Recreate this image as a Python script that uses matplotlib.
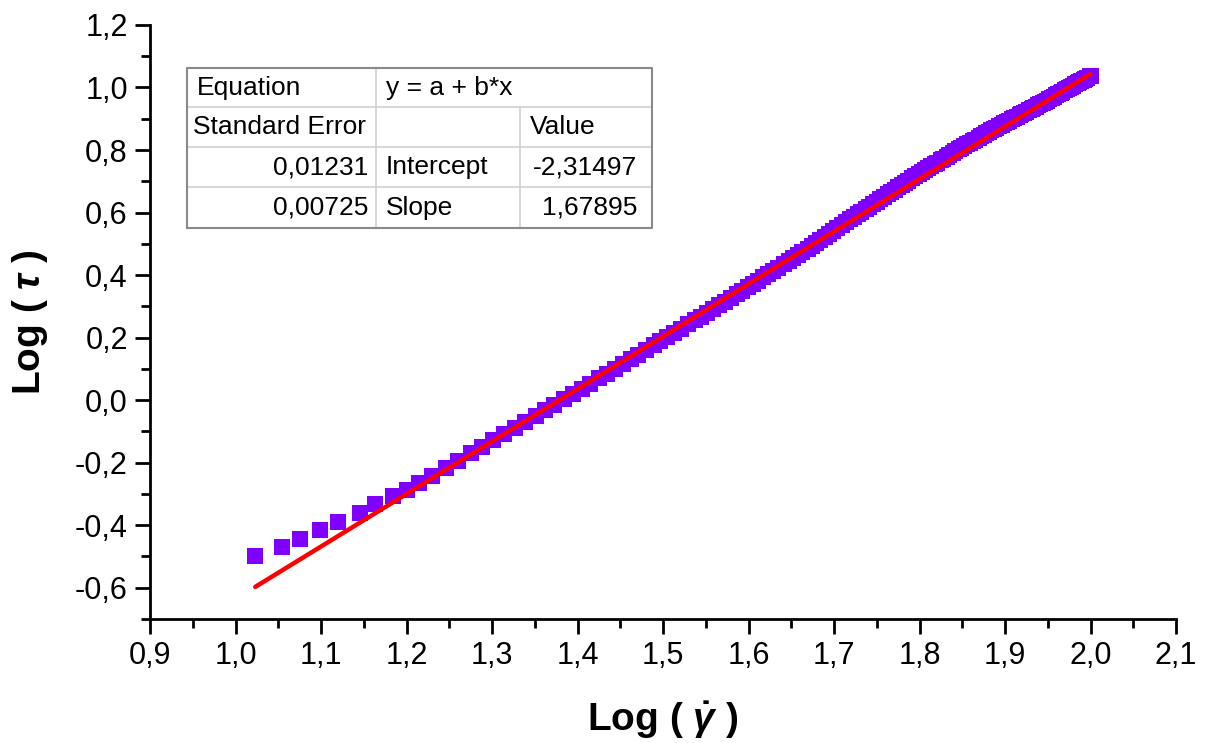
import numpy as np
import matplotlib
matplotlib.use('Agg')
import matplotlib.pyplot as plt
from matplotlib.ticker import MultipleLocator, FuncFormatter

plt.rcParams['font.family'] = ['Liberation Sans', 'DejaVu Sans']
plt.rcParams['mathtext.fontset'] = 'custom'
plt.rcParams['mathtext.it'] = 'Liberation Sans:italic:bold'
plt.rcParams['mathtext.rm'] = 'Liberation Sans:bold'

# log(shear rate) and log(shear stress)
log_rate = [1.023, 1.054, 1.075, 1.099, 1.120, 1.146, 1.163, 1.184, 1.200, 1.215,
            1.230, 1.246, 1.260, 1.275, 1.288, 1.301, 1.314, 1.327, 1.339, 1.351,
            1.362, 1.373, 1.384, 1.395, 1.405, 1.415, 1.425, 1.435, 1.444, 1.453,
            1.462, 1.471, 1.480, 1.489, 1.497, 1.505, 1.513, 1.521, 1.529, 1.537,
            1.544, 1.551, 1.558, 1.565, 1.572, 1.579, 1.586, 1.592, 1.599, 1.605,
            1.611, 1.617, 1.623, 1.629, 1.635, 1.641, 1.647, 1.652, 1.658, 1.663,
            1.669, 1.674, 1.679, 1.684, 1.689, 1.694, 1.699, 1.704, 1.709, 1.714,
            1.719, 1.723, 1.728, 1.732, 1.737, 1.741, 1.746, 1.750, 1.754, 1.758,
            1.763, 1.767, 1.771, 1.775, 1.779, 1.783, 1.787, 1.791, 1.795, 1.799,
            1.803, 1.806, 1.810, 1.814, 1.818, 1.821, 1.825, 1.828, 1.832, 1.835,
            1.839, 1.842, 1.846, 1.849, 1.852, 1.856, 1.859, 1.862, 1.865, 1.869,
            1.872, 1.875, 1.878, 1.881, 1.884, 1.887, 1.890, 1.893, 1.896, 1.899,
            1.902, 1.905, 1.908, 1.911, 1.914, 1.917, 1.919, 1.922, 1.925, 1.928,
            1.931, 1.933, 1.936, 1.939, 1.941, 1.944, 1.947, 1.949, 1.952, 1.955,
            1.957, 1.960, 1.962, 1.965, 1.967, 1.970, 1.972, 1.975, 1.977, 1.980,
            1.982, 1.985, 1.987, 1.989, 1.992, 1.994, 1.996, 1.999, 2.000]
log_stress = [-0.499, -0.469, -0.443, -0.414, -0.389, -0.360, -0.333, -0.307, -0.286, -0.265,
              -0.242, -0.217, -0.195, -0.170, -0.150, -0.129, -0.109, -0.089, -0.070, -0.051,
              -0.033, -0.016, 0.003, 0.020, 0.037, 0.053, 0.070, 0.085, 0.100, 0.115,
              0.130, 0.145, 0.160, 0.175, 0.188, 0.202, 0.215, 0.229, 0.242, 0.256,
              0.267, 0.279, 0.291, 0.303, 0.314, 0.327, 0.339, 0.349, 0.362, 0.372,
              0.382, 0.393, 0.403, 0.414, 0.424, 0.435, 0.445, 0.455, 0.465, 0.474,
              0.484, 0.494, 0.502, 0.511, 0.521, 0.530, 0.540, 0.550, 0.559, 0.569,
              0.578, 0.586, 0.595, 0.603, 0.611, 0.619, 0.628, 0.635, 0.643, 0.650,
              0.659, 0.667, 0.673, 0.681, 0.688, 0.696, 0.702, 0.709, 0.716, 0.723,
              0.730, 0.735, 0.742, 0.749, 0.755, 0.760, 0.767, 0.772, 0.779, 0.784,
              0.791, 0.796, 0.802, 0.807, 0.812, 0.819, 0.823, 0.828, 0.833, 0.840,
              0.845, 0.849, 0.853, 0.858, 0.863, 0.867, 0.871, 0.876, 0.880, 0.885,
              0.889, 0.893, 0.898, 0.902, 0.907, 0.911, 0.914, 0.918, 0.923, 0.927,
              0.931, 0.934, 0.939, 0.943, 0.946, 0.951, 0.955, 0.958, 0.962, 0.967,
              0.971, 0.976, 0.979, 0.983, 0.987, 0.992, 0.994, 0.999, 1.002, 1.006,
              1.010, 1.015, 1.017, 1.020, 1.025, 1.028, 1.031, 1.036, 1.038]

intercept = -2.31497
slope = 1.67895
se_intercept = '0,01231'
se_slope = '0,00725'

fig = plt.figure(figsize=(12.11, 7.43), dpi=100)
ax = fig.add_axes([0.1239, 0.1669, 0.8472, 0.7995])

ax.plot(log_rate, log_stress, 's', color='#7F00FF', markersize=12, markeredgewidth=0)
xfit = np.array([min(log_rate), max(log_rate)])
ax.plot(xfit, intercept + slope * xfit, color='#FF0000', lw=3.2, solid_capstyle='round')

ax.set_xlim(0.9, 2.1)
ax.set_ylim(-0.7, 1.2)
ax.xaxis.set_major_locator(MultipleLocator(0.1))
ax.xaxis.set_minor_locator(MultipleLocator(0.05))
ax.yaxis.set_major_locator(MultipleLocator(0.2))
ax.yaxis.set_minor_locator(MultipleLocator(0.1))
comma = FuncFormatter(lambda v, p: ('%.1f' % v).replace('.', ',').replace('-0,0', '0,0'))
ax.xaxis.set_major_formatter(comma)
ax.yaxis.set_major_formatter(comma)

for s in ['top', 'right']:
    ax.spines[s].set_visible(False)
for s in ['left', 'bottom']:
    ax.spines[s].set_linewidth(2)
ax.tick_params(which='major', direction='out', length=11, width=2, labelsize=22, pad=5)
ax.tick_params(which='minor', direction='out', length=6.5, width=2)

ax.set_xlabel(r'Log ( $\dot{\gamma}$ )', fontsize=28, fontweight='bold', labelpad=20)
ax.set_ylabel(r'Log ( $\tau$ )', fontsize=28, fontweight='bold', labelpad=18)

# fit results table
tab = fig.add_axes([0.1544, 0.6931, 0.384, 0.2153])
tab.set_xlim(0, 1)
tab.set_ylim(0, 1)
tab.axis('off')
c1, c2 = 0.4065, 0.716
rows = [1.0, 0.756, 0.506, 0.256, 0.0]
inner = '#cfcfcf'
for r in rows[1:-1]:
    tab.plot([0, 1], [r, r], color=inner, lw=1.2)
tab.plot([c1, c1], [0, 1], color=inner, lw=1.2)
tab.plot([c2, c2], [0, rows[1]], color=inner, lw=1.2)
tab.plot([0, 1, 1, 0, 0], [0, 0, 1, 1, 0], color='#8a8a8a', lw=1.5, clip_on=False)

fs = 19
mid = [(rows[i] + rows[i + 1]) / 2 for i in range(4)]
tab.text(0.022, mid[0], 'Equation', fontsize=fs, va='center')
tab.text(0.428, mid[0], 'y = a + b*x', fontsize=fs, va='center')
tab.text(0.012, mid[1], 'Standard Error', fontsize=fs, va='center')
tab.text(0.737, mid[1], 'Value', fontsize=fs, va='center')
tab.text(0.39, mid[2], se_intercept, fontsize=fs, va='center', ha='right')
tab.text(0.428, mid[2], 'Intercept', fontsize=fs, va='center')
tab.text(0.968, mid[2], ('%.5f' % intercept).replace('.', ','), fontsize=fs, va='center', ha='right')
tab.text(0.39, mid[3], se_slope, fontsize=fs, va='center', ha='right')
tab.text(0.428, mid[3], 'Slope', fontsize=fs, va='center')
tab.text(0.968, mid[3], ('%.5f' % slope).replace('.', ','), fontsize=fs, va='center', ha='right')

fig.savefig('out.png', dpi=100)
